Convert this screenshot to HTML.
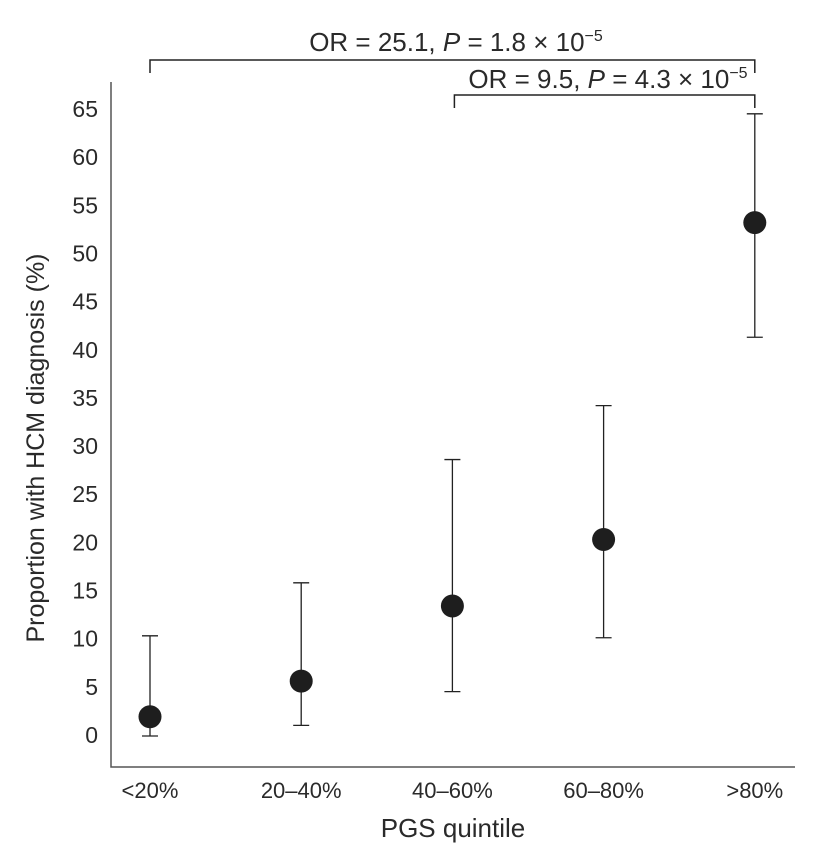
<!DOCTYPE html>
<html><head><meta charset="utf-8"><style>
body{margin:0;background:#fff}
svg text{font-family:"Liberation Sans",sans-serif;fill:#2a2a2a}
</style></head><body>
<svg width="826" height="848" viewBox="0 0 826 848" xmlns="http://www.w3.org/2000/svg">
<g id="g"></g>
</svg>
<script>
const categories=["<20%","20–40%","40–60%","60–80%",">80%"];
const values=[1.9,5.6,13.4,20.3,53.2];
const upper=[10.3,15.8,28.6,34.2,64.5];
const lower=[-0.1,1.0,4.5,10.1,41.3];
const yTicks=[0,5,10,15,20,25,30,35,40,45,50,55,60,65];
const g=document.getElementById('g');
const NS="http://www.w3.org/2000/svg";
function y(v){return 735-v*(735-109)/65;}
function x(i){return 150+i*151.2;}
function el(t,a,txt){const e=document.createElementNS(NS,t);for(const k in a)e.setAttribute(k,a[k]);if(txt!==undefined)e.textContent=txt;g.appendChild(e);return e;}
let a=el('path',{d:'M111,82 V767 H795',fill:'none',stroke:'#555','stroke-width':1.5});


yTicks.forEach(t=>{const e=el('text',{x:98,y:y(t)+8,'text-anchor':'end','font-size':23},String(t));

});
categories.forEach((c,i)=>{const e=el('text',{x:x(i),y:798,'text-anchor':'middle','font-size':22},c);

});
categories.forEach((c,i)=>{
const b=el('path',{d:`M${x(i)},${y(upper[i])} V${y(lower[i])} M${x(i)-8},${y(upper[i])} H${x(i)+8} M${x(i)-8},${y(lower[i])} H${x(i)+8}`,stroke:'#222','stroke-width':1.3,fill:'none'});


const p=el('circle',{cx:x(i),cy:y(values[i]),r:11.5,fill:'#1e1e1e'});


});
let br=el('path',{d:`M${x(0)},73 V60 H${x(4)} V73 M${x(2)+2},108 V95 H${x(4)} V108`,stroke:'#222','stroke-width':1.5,fill:'none'});


</script>
<svg style="position:absolute;left:0;top:0" width="826" height="848">
<text x="456" y="51" text-anchor="middle" font-size="26">OR = 25.1, <tspan font-style="italic">P</tspan> = 1.8 × 10<tspan font-size="16" dy="-10">−5</tspan></text>
<text x="608" y="88" text-anchor="middle" font-size="26">OR = 9.5, <tspan font-style="italic">P</tspan> = 4.3 × 10<tspan font-size="16" dy="-10">−5</tspan></text>
<text transform="translate(44,448) rotate(-90)" text-anchor="middle" font-size="25">Proportion with HCM diagnosis (%)</text>
<text x="453" y="837" text-anchor="middle" font-size="26">PGS quintile</text>
</svg>
</body></html>
